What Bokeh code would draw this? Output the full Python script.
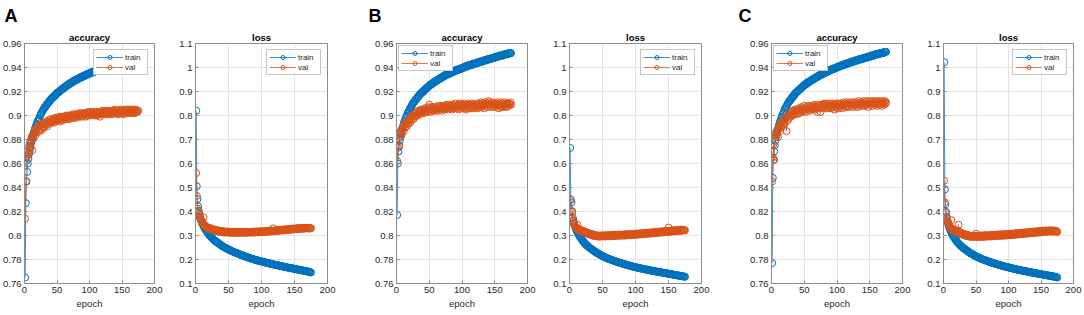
from bokeh.plotting import figure
from bokeh.layouts import row
from bokeh.models import Range1d, FixedTicker, CustomJSTickFormatter, Legend, LegendItem, Title
from bokeh.embed import file_html
from bokeh.resources import INLINE

epochs = list(range(1, 176))
x_ticks = [0, 50, 100, 150, 200]
acc_ticks = [0.76, 0.78, 0.8, 0.82, 0.84, 0.86, 0.88, 0.9, 0.92, 0.94, 0.96]
loss_ticks = [0.1, 0.2, 0.3, 0.4, 0.5, 0.6, 0.7, 0.8, 0.9, 1.0, 1.1]
panel_tags = ["A", "B", "C"]
series_names = ["train", "val"]

a_acc_train = [
    0.765, 0.827, 0.845, 0.853, 0.860, 0.864, 0.868, 0.871, 0.874, 0.877,
    0.879, 0.881, 0.883, 0.885, 0.887, 0.889, 0.890, 0.892, 0.893, 0.895,
    0.896, 0.897, 0.898, 0.900, 0.901, 0.902, 0.903, 0.904, 0.905, 0.906,
    0.907, 0.907, 0.908, 0.909, 0.910, 0.910, 0.911, 0.912, 0.912, 0.913,
    0.914, 0.914, 0.915, 0.915, 0.916, 0.916, 0.917, 0.917, 0.918, 0.919,
    0.919, 0.919, 0.920, 0.920, 0.921, 0.921, 0.922, 0.922, 0.922, 0.923,
    0.923, 0.924, 0.924, 0.924, 0.925, 0.925, 0.926, 0.926, 0.926, 0.927,
    0.927, 0.927, 0.928, 0.928, 0.928, 0.929, 0.929, 0.929, 0.930, 0.930,
    0.930, 0.930, 0.931, 0.931, 0.931, 0.932, 0.932, 0.932, 0.932, 0.933,
    0.933, 0.933, 0.933, 0.934, 0.934, 0.934, 0.934, 0.935, 0.935, 0.935,
    0.935, 0.936, 0.936, 0.936, 0.936, 0.936, 0.937, 0.937, 0.937, 0.937,
    0.938, 0.938, 0.938, 0.938, 0.938, 0.939, 0.939, 0.939, 0.939, 0.939,
    0.940, 0.940, 0.940, 0.940, 0.940, 0.940, 0.941, 0.941, 0.941, 0.941,
    0.941, 0.941, 0.942, 0.942, 0.942, 0.942, 0.942, 0.942, 0.943, 0.943,
    0.943, 0.943, 0.943, 0.943, 0.943, 0.944, 0.944, 0.944, 0.944, 0.944,
    0.944, 0.944, 0.945, 0.945, 0.945, 0.945, 0.945, 0.945, 0.945, 0.945,
    0.946, 0.946, 0.946, 0.946, 0.946, 0.946, 0.946, 0.946, 0.947, 0.947,
    0.947, 0.947, 0.947, 0.947, 0.947,
]
a_acc_val = [
    0.814, 0.845, 0.862, 0.866, 0.870, 0.868, 0.874, 0.877, 0.873, 0.880,
    0.882, 0.871, 0.884, 0.881, 0.885, 0.887, 0.884, 0.889, 0.886, 0.890,
    0.888, 0.891, 0.887, 0.892, 0.889, 0.893, 0.888, 0.891, 0.893, 0.890,
    0.894, 0.892, 0.893, 0.895, 0.891, 0.894, 0.896, 0.893, 0.895, 0.897,
    0.894, 0.896, 0.895, 0.897, 0.894, 0.896, 0.898, 0.895, 0.897, 0.896,
    0.898, 0.896, 0.897, 0.899, 0.895, 0.898, 0.897, 0.899, 0.896, 0.898,
    0.899, 0.897, 0.898, 0.900, 0.897, 0.899, 0.898, 0.900, 0.897, 0.899,
    0.900, 0.898, 0.899, 0.901, 0.898, 0.900, 0.899, 0.901, 0.898, 0.900,
    0.901, 0.899, 0.900, 0.902, 0.899, 0.901, 0.900, 0.902, 0.899, 0.901,
    0.900, 0.902, 0.901, 0.899, 0.902, 0.900, 0.901, 0.903, 0.900, 0.902,
    0.901, 0.903, 0.900, 0.902, 0.901, 0.903, 0.901, 0.902, 0.900, 0.903,
    0.902, 0.900, 0.903, 0.901, 0.902, 0.899, 0.903, 0.901, 0.902, 0.904,
    0.901, 0.903, 0.902, 0.904, 0.901, 0.903, 0.902, 0.904, 0.901, 0.903,
    0.902, 0.904, 0.902, 0.903, 0.901, 0.904, 0.902, 0.903, 0.905, 0.902,
    0.904, 0.902, 0.903, 0.901, 0.904, 0.902, 0.903, 0.905, 0.902, 0.904,
    0.903, 0.901, 0.904, 0.902, 0.905, 0.903, 0.904, 0.902, 0.905, 0.903,
    0.904, 0.902, 0.905, 0.903, 0.904, 0.902, 0.905, 0.903, 0.904, 0.902,
    0.905, 0.903, 0.904, 0.903, 0.904,
]
a_loss_train = [
    0.820, 0.505, 0.452, 0.422, 0.402, 0.388, 0.377, 0.367, 0.359, 0.352,
    0.346, 0.340, 0.335, 0.330, 0.325, 0.321, 0.317, 0.313, 0.309, 0.305,
    0.302, 0.299, 0.296, 0.293, 0.290, 0.287, 0.285, 0.282, 0.280, 0.277,
    0.275, 0.273, 0.271, 0.269, 0.267, 0.265, 0.263, 0.261, 0.259, 0.257,
    0.255, 0.254, 0.252, 0.251, 0.249, 0.248, 0.246, 0.245, 0.243, 0.242,
    0.240, 0.239, 0.238, 0.236, 0.235, 0.234, 0.233, 0.231, 0.230, 0.229,
    0.228, 0.227, 0.226, 0.225, 0.224, 0.223, 0.221, 0.220, 0.219, 0.218,
    0.217, 0.216, 0.215, 0.214, 0.213, 0.212, 0.211, 0.210, 0.209, 0.208,
    0.207, 0.206, 0.205, 0.204, 0.203, 0.203, 0.202, 0.201, 0.200, 0.199,
    0.198, 0.198, 0.197, 0.196, 0.195, 0.195, 0.194, 0.193, 0.192, 0.192,
    0.191, 0.190, 0.190, 0.189, 0.188, 0.188, 0.187, 0.186, 0.186, 0.185,
    0.184, 0.184, 0.183, 0.182, 0.182, 0.181, 0.180, 0.180, 0.179, 0.178,
    0.178, 0.177, 0.177, 0.176, 0.175, 0.175, 0.174, 0.174, 0.173, 0.172,
    0.172, 0.171, 0.171, 0.170, 0.169, 0.169, 0.168, 0.168, 0.167, 0.166,
    0.166, 0.165, 0.165, 0.164, 0.164, 0.163, 0.163, 0.162, 0.162, 0.161,
    0.160, 0.160, 0.159, 0.159, 0.158, 0.158, 0.157, 0.157, 0.156, 0.155,
    0.155, 0.154, 0.154, 0.153, 0.153, 0.152, 0.152, 0.151, 0.151, 0.150,
    0.149, 0.148, 0.147, 0.147, 0.146,
]
a_loss_val = [
    0.560, 0.465, 0.412, 0.402, 0.390, 0.380, 0.372, 0.365, 0.360, 0.350,
    0.355, 0.376, 0.345, 0.342, 0.338, 0.336, 0.333, 0.335, 0.330, 0.332,
    0.328, 0.331, 0.326, 0.329, 0.324, 0.327, 0.322, 0.325, 0.321, 0.324,
    0.319, 0.322, 0.318, 0.321, 0.316, 0.320, 0.317, 0.314, 0.319, 0.315,
    0.318, 0.313, 0.317, 0.315, 0.312, 0.316, 0.314, 0.317, 0.312, 0.315,
    0.313, 0.316, 0.311, 0.314, 0.312, 0.315, 0.311, 0.314, 0.312, 0.316,
    0.311, 0.313, 0.315, 0.310, 0.314, 0.312, 0.315, 0.311, 0.313, 0.316,
    0.312, 0.314, 0.311, 0.315, 0.313, 0.311, 0.316, 0.312, 0.314, 0.313,
    0.315, 0.312, 0.316, 0.313, 0.314, 0.312, 0.316, 0.314, 0.313, 0.317,
    0.313, 0.315, 0.314, 0.317, 0.313, 0.316, 0.314, 0.318, 0.315, 0.316,
    0.314, 0.318, 0.315, 0.317, 0.316, 0.319, 0.315, 0.318, 0.316, 0.320,
    0.317, 0.319, 0.316, 0.321, 0.318, 0.320, 0.317, 0.330, 0.319, 0.321,
    0.318, 0.322, 0.320, 0.323, 0.319, 0.322, 0.321, 0.324, 0.320, 0.323,
    0.322, 0.325, 0.321, 0.324, 0.323, 0.326, 0.322, 0.325, 0.324, 0.327,
    0.323, 0.326, 0.325, 0.328, 0.324, 0.327, 0.326, 0.329, 0.325, 0.328,
    0.327, 0.330, 0.326, 0.329, 0.328, 0.331, 0.327, 0.330, 0.328, 0.331,
    0.329, 0.332, 0.328, 0.331, 0.330, 0.332, 0.329, 0.331, 0.330, 0.332,
    0.330, 0.331, 0.329, 0.331, 0.330,
]
b_acc_train = [
    0.817, 0.860, 0.870, 0.875, 0.879, 0.882, 0.885, 0.887, 0.889, 0.891,
    0.893, 0.895, 0.896, 0.898, 0.899, 0.900, 0.902, 0.903, 0.904, 0.905,
    0.906, 0.907, 0.908, 0.909, 0.910, 0.911, 0.911, 0.912, 0.913, 0.914,
    0.914, 0.915, 0.916, 0.916, 0.917, 0.918, 0.918, 0.919, 0.919, 0.920,
    0.920, 0.921, 0.921, 0.922, 0.922, 0.923, 0.923, 0.924, 0.924, 0.925,
    0.925, 0.926, 0.926, 0.926, 0.927, 0.927, 0.928, 0.928, 0.928, 0.929,
    0.929, 0.929, 0.930, 0.930, 0.930, 0.931, 0.931, 0.931, 0.932, 0.932,
    0.932, 0.933, 0.933, 0.933, 0.934, 0.934, 0.934, 0.934, 0.935, 0.935,
    0.935, 0.935, 0.936, 0.936, 0.936, 0.936, 0.937, 0.937, 0.937, 0.937,
    0.938, 0.938, 0.938, 0.938, 0.938, 0.939, 0.939, 0.939, 0.939, 0.939,
    0.940, 0.940, 0.940, 0.940, 0.941, 0.941, 0.941, 0.941, 0.941, 0.942,
    0.942, 0.942, 0.942, 0.942, 0.942, 0.943, 0.943, 0.943, 0.943, 0.943,
    0.944, 0.944, 0.944, 0.944, 0.944, 0.944, 0.945, 0.945, 0.945, 0.945,
    0.945, 0.945, 0.946, 0.946, 0.946, 0.946, 0.946, 0.946, 0.947, 0.947,
    0.947, 0.947, 0.947, 0.947, 0.948, 0.948, 0.948, 0.948, 0.948, 0.948,
    0.949, 0.949, 0.949, 0.949, 0.949, 0.949, 0.950, 0.950, 0.950, 0.950,
    0.950, 0.950, 0.950, 0.951, 0.951, 0.951, 0.951, 0.951, 0.951, 0.951,
    0.952, 0.952, 0.952, 0.952, 0.952,
]
b_acc_val = [
    0.862, 0.873, 0.881, 0.874, 0.885, 0.886, 0.888, 0.884, 0.889, 0.891,
    0.887, 0.892, 0.890, 0.894, 0.893, 0.891, 0.895, 0.893, 0.896, 0.897,
    0.894, 0.898, 0.896, 0.899, 0.900, 0.897, 0.901, 0.899, 0.902, 0.900,
    0.903, 0.900, 0.902, 0.904, 0.901, 0.903, 0.905, 0.902, 0.904, 0.903,
    0.905, 0.902, 0.906, 0.903, 0.905, 0.904, 0.906, 0.903, 0.907, 0.909,
    0.904, 0.906, 0.903, 0.907, 0.905, 0.904, 0.907, 0.905, 0.906, 0.904,
    0.907, 0.905, 0.908, 0.904, 0.906, 0.907, 0.905, 0.908, 0.906, 0.904,
    0.907, 0.906, 0.908, 0.905, 0.907, 0.909, 0.906, 0.908, 0.905, 0.907,
    0.909, 0.906, 0.908, 0.907, 0.905, 0.909, 0.907, 0.906, 0.908, 0.910,
    0.906, 0.908, 0.907, 0.909, 0.905, 0.908, 0.910, 0.906, 0.908, 0.907,
    0.909, 0.906, 0.908, 0.910, 0.907, 0.905, 0.909, 0.908, 0.906, 0.910,
    0.907, 0.909, 0.906, 0.908, 0.910, 0.907, 0.909, 0.906, 0.908, 0.910,
    0.907, 0.909, 0.908, 0.906, 0.910, 0.908, 0.907, 0.909, 0.911, 0.907,
    0.909, 0.908, 0.910, 0.906, 0.909, 0.911, 0.908, 0.910, 0.907, 0.912,
    0.909, 0.911, 0.908, 0.910, 0.907, 0.909, 0.911, 0.908, 0.910, 0.909,
    0.907, 0.910, 0.909, 0.911, 0.908, 0.906, 0.910, 0.909, 0.907, 0.911,
    0.908, 0.910, 0.907, 0.909, 0.911, 0.908, 0.910, 0.907, 0.909, 0.910,
    0.908, 0.910, 0.909, 0.911, 0.909,
]
b_loss_train = [
    0.665, 0.448, 0.438, 0.400, 0.375, 0.362, 0.350, 0.340, 0.332, 0.325,
    0.319, 0.313, 0.308, 0.303, 0.298, 0.294, 0.290, 0.286, 0.282, 0.278,
    0.275, 0.271, 0.268, 0.265, 0.262, 0.259, 0.257, 0.255, 0.252, 0.250,
    0.248, 0.246, 0.244, 0.242, 0.240, 0.238, 0.236, 0.234, 0.232, 0.230,
    0.228, 0.227, 0.225, 0.224, 0.222, 0.220, 0.219, 0.217, 0.216, 0.214,
    0.213, 0.212, 0.210, 0.209, 0.208, 0.207, 0.205, 0.204, 0.203, 0.202,
    0.201, 0.200, 0.199, 0.198, 0.197, 0.196, 0.195, 0.194, 0.193, 0.192,
    0.191, 0.190, 0.189, 0.188, 0.187, 0.187, 0.186, 0.185, 0.184, 0.183,
    0.182, 0.181, 0.181, 0.180, 0.179, 0.178, 0.178, 0.177, 0.176, 0.175,
    0.174, 0.174, 0.173, 0.172, 0.171, 0.171, 0.170, 0.169, 0.169, 0.168,
    0.167, 0.167, 0.166, 0.165, 0.165, 0.164, 0.163, 0.163, 0.162, 0.162,
    0.161, 0.160, 0.160, 0.159, 0.159, 0.158, 0.158, 0.157, 0.156, 0.156,
    0.155, 0.155, 0.154, 0.154, 0.153, 0.153, 0.152, 0.152, 0.151, 0.151,
    0.150, 0.150, 0.149, 0.149, 0.148, 0.148, 0.147, 0.147, 0.146, 0.146,
    0.145, 0.145, 0.144, 0.144, 0.143, 0.143, 0.142, 0.142, 0.141, 0.141,
    0.140, 0.140, 0.139, 0.139, 0.138, 0.138, 0.137, 0.137, 0.136, 0.136,
    0.135, 0.135, 0.134, 0.134, 0.133, 0.133, 0.132, 0.132, 0.131, 0.131,
    0.130, 0.130, 0.129, 0.129, 0.128,
]
b_loss_val = [
    0.452, 0.405, 0.372, 0.398, 0.360, 0.352, 0.348, 0.340, 0.338, 0.335,
    0.330, 0.345, 0.327, 0.324, 0.326, 0.321, 0.323, 0.319, 0.321, 0.318,
    0.315, 0.318, 0.312, 0.316, 0.310, 0.313, 0.308, 0.311, 0.306, 0.309,
    0.304, 0.307, 0.302, 0.306, 0.300, 0.304, 0.299, 0.303, 0.298, 0.301,
    0.296, 0.300, 0.297, 0.299, 0.295, 0.300, 0.296, 0.299, 0.297, 0.301,
    0.296, 0.299, 0.297, 0.301, 0.296, 0.300, 0.298, 0.302, 0.297, 0.300,
    0.298, 0.302, 0.297, 0.301, 0.299, 0.303, 0.298, 0.301, 0.299, 0.303,
    0.298, 0.302, 0.300, 0.304, 0.299, 0.302, 0.300, 0.304, 0.301, 0.303,
    0.299, 0.304, 0.301, 0.305, 0.300, 0.303, 0.301, 0.306, 0.302, 0.304,
    0.301, 0.305, 0.302, 0.307, 0.303, 0.305, 0.302, 0.307, 0.304, 0.306,
    0.303, 0.308, 0.304, 0.307, 0.305, 0.309, 0.304, 0.308, 0.306, 0.310,
    0.305, 0.309, 0.307, 0.311, 0.306, 0.310, 0.308, 0.312, 0.307, 0.311,
    0.309, 0.313, 0.308, 0.312, 0.310, 0.314, 0.309, 0.313, 0.311, 0.315,
    0.310, 0.314, 0.312, 0.316, 0.311, 0.315, 0.313, 0.317, 0.312, 0.316,
    0.314, 0.318, 0.313, 0.317, 0.315, 0.319, 0.314, 0.318, 0.316, 0.333,
    0.315, 0.319, 0.317, 0.321, 0.316, 0.320, 0.318, 0.322, 0.317, 0.321,
    0.319, 0.323, 0.318, 0.322, 0.320, 0.324, 0.319, 0.323, 0.321, 0.325,
    0.320, 0.324, 0.322, 0.323, 0.321,
]
c_acc_train = [
    0.777, 0.848, 0.863, 0.870, 0.875, 0.879, 0.882, 0.885, 0.887, 0.889,
    0.891, 0.893, 0.895, 0.896, 0.898, 0.899, 0.901, 0.902, 0.903, 0.905,
    0.906, 0.907, 0.908, 0.909, 0.910, 0.911, 0.912, 0.912, 0.913, 0.914,
    0.915, 0.915, 0.916, 0.917, 0.917, 0.918, 0.919, 0.919, 0.920, 0.920,
    0.921, 0.921, 0.922, 0.922, 0.923, 0.923, 0.924, 0.924, 0.925, 0.925,
    0.926, 0.926, 0.926, 0.927, 0.927, 0.928, 0.928, 0.928, 0.929, 0.929,
    0.929, 0.930, 0.930, 0.930, 0.931, 0.931, 0.931, 0.932, 0.932, 0.932,
    0.933, 0.933, 0.933, 0.934, 0.934, 0.934, 0.934, 0.935, 0.935, 0.935,
    0.936, 0.936, 0.936, 0.936, 0.937, 0.937, 0.937, 0.937, 0.938, 0.938,
    0.938, 0.938, 0.939, 0.939, 0.939, 0.939, 0.939, 0.940, 0.940, 0.940,
    0.940, 0.941, 0.941, 0.941, 0.941, 0.941, 0.942, 0.942, 0.942, 0.942,
    0.942, 0.943, 0.943, 0.943, 0.943, 0.943, 0.944, 0.944, 0.944, 0.944,
    0.944, 0.945, 0.945, 0.945, 0.945, 0.945, 0.945, 0.946, 0.946, 0.946,
    0.946, 0.946, 0.946, 0.947, 0.947, 0.947, 0.947, 0.947, 0.947, 0.948,
    0.948, 0.948, 0.948, 0.948, 0.948, 0.949, 0.949, 0.949, 0.949, 0.949,
    0.949, 0.950, 0.950, 0.950, 0.950, 0.950, 0.950, 0.951, 0.951, 0.951,
    0.951, 0.951, 0.951, 0.951, 0.952, 0.952, 0.952, 0.952, 0.952, 0.952,
    0.952, 0.953, 0.953, 0.953, 0.953,
]
c_acc_val = [
    0.845, 0.865, 0.876, 0.863, 0.883, 0.882, 0.886, 0.884, 0.888, 0.882,
    0.889, 0.891, 0.887, 0.893, 0.890, 0.894, 0.892, 0.896, 0.893, 0.897,
    0.894, 0.898, 0.887, 0.899, 0.896, 0.900, 0.898, 0.902, 0.899, 0.901,
    0.903, 0.900, 0.904, 0.901, 0.903, 0.905, 0.902, 0.904, 0.901, 0.905,
    0.903, 0.906, 0.902, 0.905, 0.904, 0.907, 0.903, 0.906, 0.904, 0.908,
    0.905, 0.903, 0.907, 0.904, 0.906, 0.908, 0.905, 0.907, 0.904, 0.906,
    0.908, 0.905, 0.907, 0.906, 0.909, 0.905, 0.907, 0.908, 0.906, 0.903,
    0.907, 0.909, 0.906, 0.908, 0.903, 0.907, 0.909, 0.906, 0.908, 0.910,
    0.907, 0.909, 0.906, 0.910, 0.908, 0.906, 0.909, 0.907, 0.910, 0.908,
    0.906, 0.909, 0.907, 0.910, 0.908, 0.905, 0.909, 0.907, 0.910, 0.908,
    0.906, 0.910, 0.908, 0.909, 0.907, 0.910, 0.908, 0.906, 0.909, 0.911,
    0.908, 0.910, 0.907, 0.909, 0.911, 0.908, 0.910, 0.907, 0.909, 0.911,
    0.908, 0.910, 0.909, 0.907, 0.911, 0.909, 0.910, 0.908, 0.911, 0.909,
    0.907, 0.910, 0.912, 0.908, 0.910, 0.909, 0.911, 0.908, 0.910, 0.912,
    0.909, 0.911, 0.908, 0.910, 0.912, 0.909, 0.911, 0.907, 0.910, 0.912,
    0.909, 0.911, 0.910, 0.908, 0.912, 0.910, 0.911, 0.909, 0.912, 0.910,
    0.908, 0.911, 0.910, 0.912, 0.909, 0.911, 0.910, 0.908, 0.912, 0.910,
    0.911, 0.909, 0.912, 0.910, 0.911,
]
c_loss_train = [
    1.022, 0.492, 0.430, 0.398, 0.378, 0.363, 0.351, 0.341, 0.333, 0.326,
    0.319, 0.313, 0.307, 0.302, 0.297, 0.293, 0.289, 0.285, 0.281, 0.277,
    0.274, 0.270, 0.267, 0.264, 0.261, 0.258, 0.256, 0.253, 0.251, 0.249,
    0.247, 0.245, 0.243, 0.241, 0.239, 0.237, 0.235, 0.233, 0.231, 0.229,
    0.227, 0.226, 0.224, 0.223, 0.221, 0.219, 0.218, 0.216, 0.215, 0.213,
    0.212, 0.211, 0.209, 0.208, 0.207, 0.206, 0.204, 0.203, 0.202, 0.201,
    0.200, 0.199, 0.198, 0.197, 0.196, 0.195, 0.194, 0.193, 0.192, 0.191,
    0.190, 0.189, 0.188, 0.187, 0.186, 0.185, 0.185, 0.184, 0.183, 0.182,
    0.181, 0.180, 0.180, 0.179, 0.178, 0.177, 0.177, 0.176, 0.175, 0.174,
    0.173, 0.173, 0.172, 0.171, 0.170, 0.170, 0.169, 0.168, 0.168, 0.167,
    0.166, 0.166, 0.165, 0.164, 0.164, 0.163, 0.162, 0.162, 0.161, 0.160,
    0.160, 0.159, 0.159, 0.158, 0.157, 0.157, 0.156, 0.156, 0.155, 0.154,
    0.154, 0.153, 0.153, 0.152, 0.152, 0.151, 0.151, 0.150, 0.150, 0.149,
    0.148, 0.148, 0.147, 0.147, 0.146, 0.146, 0.145, 0.145, 0.144, 0.144,
    0.143, 0.143, 0.142, 0.142, 0.141, 0.141, 0.140, 0.140, 0.139, 0.139,
    0.138, 0.138, 0.137, 0.137, 0.136, 0.136, 0.135, 0.135, 0.134, 0.134,
    0.133, 0.133, 0.132, 0.132, 0.131, 0.131, 0.130, 0.130, 0.129, 0.129,
    0.128, 0.128, 0.127, 0.126, 0.125,
]
c_loss_val = [
    0.528, 0.438, 0.395, 0.365, 0.372, 0.360, 0.352, 0.348, 0.342, 0.335,
    0.330, 0.364, 0.327, 0.323, 0.326, 0.320, 0.324, 0.317, 0.321, 0.316,
    0.313, 0.318, 0.345, 0.315, 0.309, 0.313, 0.306, 0.310, 0.304, 0.308,
    0.302, 0.306, 0.300, 0.304, 0.298, 0.303, 0.297, 0.301, 0.296, 0.300,
    0.295, 0.299, 0.294, 0.298, 0.296, 0.300, 0.294, 0.298, 0.295, 0.307,
    0.296, 0.293, 0.299, 0.295, 0.300, 0.294, 0.298, 0.296, 0.301, 0.295,
    0.299, 0.294, 0.300, 0.297, 0.302, 0.295, 0.299, 0.297, 0.301, 0.296,
    0.300, 0.298, 0.303, 0.296, 0.301, 0.299, 0.303, 0.297, 0.301, 0.299,
    0.304, 0.298, 0.302, 0.300, 0.305, 0.298, 0.303, 0.300, 0.305, 0.299,
    0.303, 0.301, 0.306, 0.299, 0.304, 0.302, 0.306, 0.300, 0.305, 0.302,
    0.307, 0.301, 0.306, 0.303, 0.308, 0.302, 0.307, 0.304, 0.309, 0.303,
    0.308, 0.305, 0.310, 0.304, 0.309, 0.306, 0.311, 0.305, 0.310, 0.307,
    0.312, 0.306, 0.311, 0.308, 0.313, 0.307, 0.312, 0.309, 0.314, 0.308,
    0.313, 0.310, 0.315, 0.309, 0.314, 0.311, 0.316, 0.310, 0.315, 0.312,
    0.317, 0.311, 0.316, 0.313, 0.318, 0.312, 0.317, 0.314, 0.319, 0.313,
    0.318, 0.315, 0.320, 0.314, 0.319, 0.316, 0.321, 0.315, 0.320, 0.317,
    0.321, 0.316, 0.320, 0.318, 0.322, 0.316, 0.320, 0.317, 0.321, 0.316,
    0.319, 0.317, 0.320, 0.316, 0.315,
]

TRAIN_C = "#0072BD"
VAL_C = "#D95319"
FONT = "Liberation Sans"
TXT = "#262626"
EDGE = "#8c8c8c"

fmt = CustomJSTickFormatter(code="return parseFloat(tick.toFixed(3)).toString();")


def panel(train, val, yr, yticks, title, legend_loc, leg_margin, width, bl, br, tag=None):
    p = figure(width=width, height=315, output_backend="svg", toolbar_location=None,
               x_range=Range1d(0, 200), y_range=Range1d(*yr),
               min_border_left=bl, min_border_right=br,
               min_border_top=43, min_border_bottom=32)
    p.background_fill_color = "white"
    p.border_fill_color = "white"
    p.outline_line_color = EDGE
    p.outline_line_width = 1
    p.add_layout(Title(text=title, align="center", text_font=FONT, text_font_size="9.5px",
                       text_font_style="bold", text_color="#000000", standoff=2, offset=0),
                 "above")
    if tag is not None:
        p.add_layout(Title(text=tag, align="left", offset=-bl + 3, text_font=FONT,
                           text_font_size="18px", text_font_style="bold",
                           text_color="#000000", standoff=6), "above")

    p.xaxis.ticker = FixedTicker(ticks=x_ticks)
    p.yaxis.ticker = FixedTicker(ticks=yticks)
    p.yaxis.formatter = fmt
    p.xaxis.axis_label = "epoch"
    for ax in (p.xaxis[0], p.yaxis[0]):
        ax.axis_line_color = EDGE
        ax.major_tick_line_color = EDGE
        ax.major_tick_in = 3
        ax.major_tick_out = 0
        ax.minor_tick_line_color = None
        ax.major_label_text_font = FONT
        ax.major_label_text_font_size = "9.5px"
        ax.major_label_text_color = TXT
        ax.major_label_standoff = 3
        ax.axis_label_text_font = FONT
        ax.axis_label_text_font_size = "9.5px"
        ax.axis_label_text_font_style = "normal"
        ax.axis_label_text_color = TXT
        ax.axis_label_standoff = 2
    p.grid.grid_line_color = "#e2e2e2"

    x_t = epochs[:len(train)]
    x_v = epochs[:len(val)]
    items = []
    for xs, ys, col, name in ((x_t, train, TRAIN_C, series_names[0]), (x_v, val, VAL_C, series_names[1])):
        rl = p.line(xs, ys, line_color=col, line_width=0.8)
        rs = p.scatter(xs, ys, marker="circle", size=7, fill_color=None,
                       line_color=col, line_width=1)
        items.append(LegendItem(label=name, renderers=[rl, rs]))
    leg = Legend(items=items, location=legend_loc)
    leg.margin = leg_margin
    leg.padding = 2
    leg.spacing = 0
    leg.glyph_width = 27
    leg.glyph_height = 10
    leg.label_height = 10
    leg.label_standoff = 2
    leg.label_text_font = FONT
    leg.label_text_font_size = "8px"
    leg.label_text_color = TXT
    leg.border_line_color = EDGE
    leg.border_line_width = 1
    leg.background_fill_alpha = 1
    p.add_layout(leg)
    return p


acc_r = (0.76, 0.96)
loss_r = (0.1, 1.1)
p1 = panel(a_acc_train, a_acc_val, acc_r, acc_ticks, "accuracy", "top_right", 6, 170, 23, 16, panel_tags[0])
p2 = panel(a_loss_train, a_loss_val, loss_r, loss_ticks, "loss", "top_right", 6, 195, 25, 38)
p3 = panel(b_acc_train, b_acc_val, acc_r, acc_ticks, "accuracy", "top_left", 2, 180, 31, 18, panel_tags[1])
p4 = panel(b_loss_train, b_loss_val, loss_r, loss_ticks, "loss", "top_right", 6, 190, 24, 34)
p5 = panel(c_acc_train, c_acc_val, acc_r, acc_ticks, "accuracy", "top_left", 2, 185, 36, 18, panel_tags[2])
p6 = panel(c_loss_train, c_loss_val, loss_r, loss_ticks, "loss", "top_right", 6, 164, 23, 11)

layout = row(p1, p2, p3, p4, p5, p6, spacing=0)
open("out.html", "w").write(file_html(layout, INLINE))
